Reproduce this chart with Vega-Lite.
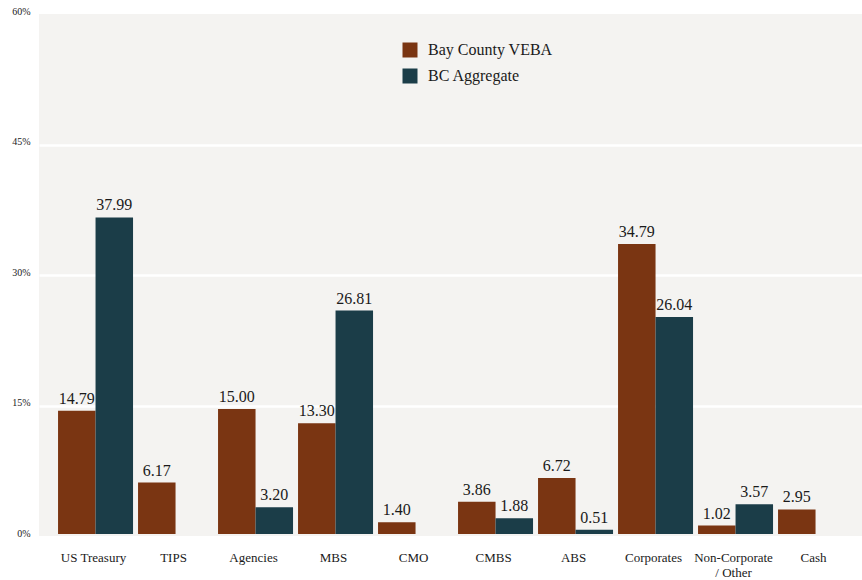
{
  "$schema": "https://vega.github.io/schema/vega-lite/v6.json",
  "width": 823,
  "height": 522,
  "autosize": {"type": "none"},
  "padding": {"left": 39, "top": 14, "right": 0, "bottom": 44},
  "background": "white",
  "config": {
    "view": {"fill": "#f4f3f1", "stroke": null},
    "font": "Liberation Serif"
  },
  "data": {
    "values": [
      {"category": "US Treasury", "series": "Bay County VEBA", "value": 14.79},
      {"category": "US Treasury", "series": "BC Aggregate", "value": 37.99},
      {"category": "TIPS", "series": "Bay County VEBA", "value": 6.17},
      {"category": "Agencies", "series": "Bay County VEBA", "value": 15.00},
      {"category": "Agencies", "series": "BC Aggregate", "value": 3.20},
      {"category": "MBS", "series": "Bay County VEBA", "value": 13.30},
      {"category": "MBS", "series": "BC Aggregate", "value": 26.81},
      {"category": "CMO", "series": "Bay County VEBA", "value": 1.40},
      {"category": "CMBS", "series": "Bay County VEBA", "value": 3.86},
      {"category": "CMBS", "series": "BC Aggregate", "value": 1.88},
      {"category": "ABS", "series": "Bay County VEBA", "value": 6.72},
      {"category": "ABS", "series": "BC Aggregate", "value": 0.51},
      {"category": "Corporates", "series": "Bay County VEBA", "value": 34.79},
      {"category": "Corporates", "series": "BC Aggregate", "value": 26.04},
      {"category": "Non-Corporate / Other", "series": "Bay County VEBA", "value": 1.02},
      {"category": "Non-Corporate / Other", "series": "BC Aggregate", "value": 3.57},
      {"category": "Cash", "series": "Bay County VEBA", "value": 2.95}
    ]
  },
  "encoding": {
    "x": {
      "field": "category",
      "type": "nominal",
      "sort": ["US Treasury", "TIPS", "Agencies", "MBS", "CMO", "CMBS", "ABS", "Corporates", "Non-Corporate / Other", "Cash"],
      "scale": {"paddingInner": 0.0625, "paddingOuter": 0.175, "align": 0.68},
      "axis": {
        "title": null,
        "domain": false,
        "ticks": false,
        "labelAngle": 0,
        "labelFontSize": 13,
        "labelColor": "#1a1a1a",
        "labelPadding": 15,
        "labelOffset": -2,
        "labelLineHeight": 15,
        "labelLimit": 0,
        "labelExpr": "datum.value == 'Non-Corporate / Other' ? ['Non-Corporate', '/ Other'] : datum.value"
      }
    }
  },
  "layer": [
    {
      "mark": {"type": "point", "opacity": 0},
      "encoding": {
        "y": {
          "field": "value",
          "type": "quantitative",
          "scale": {"domain": [0, 60], "nice": false},
          "axis": {
            "title": null,
            "values": [0, 15, 30, 45, 60],
            "labelExpr": "datum.value + '%'",
            "domain": false,
            "ticks": false,
            "grid": true,
            "gridColor": "white",
            "gridWidth": 2.5,
            "gridOpacity": {"condition": {"test": "datum.value == 0 || datum.value == 60", "value": 0}, "value": 1},
            "labelFontSize": 10,
            "labelColor": "#1a1a1a",
            "labelPadding": 9,
            "labelBaseline": "alphabetic"
          }
        }
      }
    },
    {
      "mark": {"type": "bar"},
      "encoding": {
        "y": {
          "field": "value",
          "type": "quantitative",
          "scale": {"domain": [0, 62.4], "nice": false, "range": [520, 0]},
          "axis": null
        },
        "xOffset": {
          "field": "series",
          "type": "nominal",
          "scale": {"domain": ["Bay County VEBA", "BC Aggregate"], "paddingInner": 0, "paddingOuter": 0}
        },
        "color": {
          "field": "series",
          "type": "nominal",
          "scale": {"domain": ["Bay County VEBA", "BC Aggregate"], "range": ["#7a3512", "#1b3d48"]},
          "legend": {
            "title": null,
            "orient": "none",
            "legendX": 363,
            "legendY": 28,
            "symbolType": "square",
            "symbolSize": 225,
            "symbolStrokeWidth": 0,
            "symbolOpacity": 1,
            "labelFontSize": 16,
            "labelColor": "#1a1a1a",
            "labelOffset": 10,
            "rowPadding": 10,
            "padding": 0
          }
        }
      }
    },
    {
      "mark": {"type": "text", "fontSize": 16, "dy": -7, "baseline": "alphabetic", "color": "#1a1a1a"},
      "encoding": {
        "y": {
          "field": "value",
          "type": "quantitative",
          "scale": {"domain": [0, 62.4], "nice": false, "range": [520, 0]},
          "axis": null
        },
        "xOffset": {
          "field": "series",
          "type": "nominal",
          "scale": {"domain": ["Bay County VEBA", "BC Aggregate"], "paddingInner": 0, "paddingOuter": 0}
        },
        "text": {"field": "value", "type": "quantitative", "format": ".2f"}
      }
    }
  ],
  "resolve": {"scale": {"y": "independent"}}
}
